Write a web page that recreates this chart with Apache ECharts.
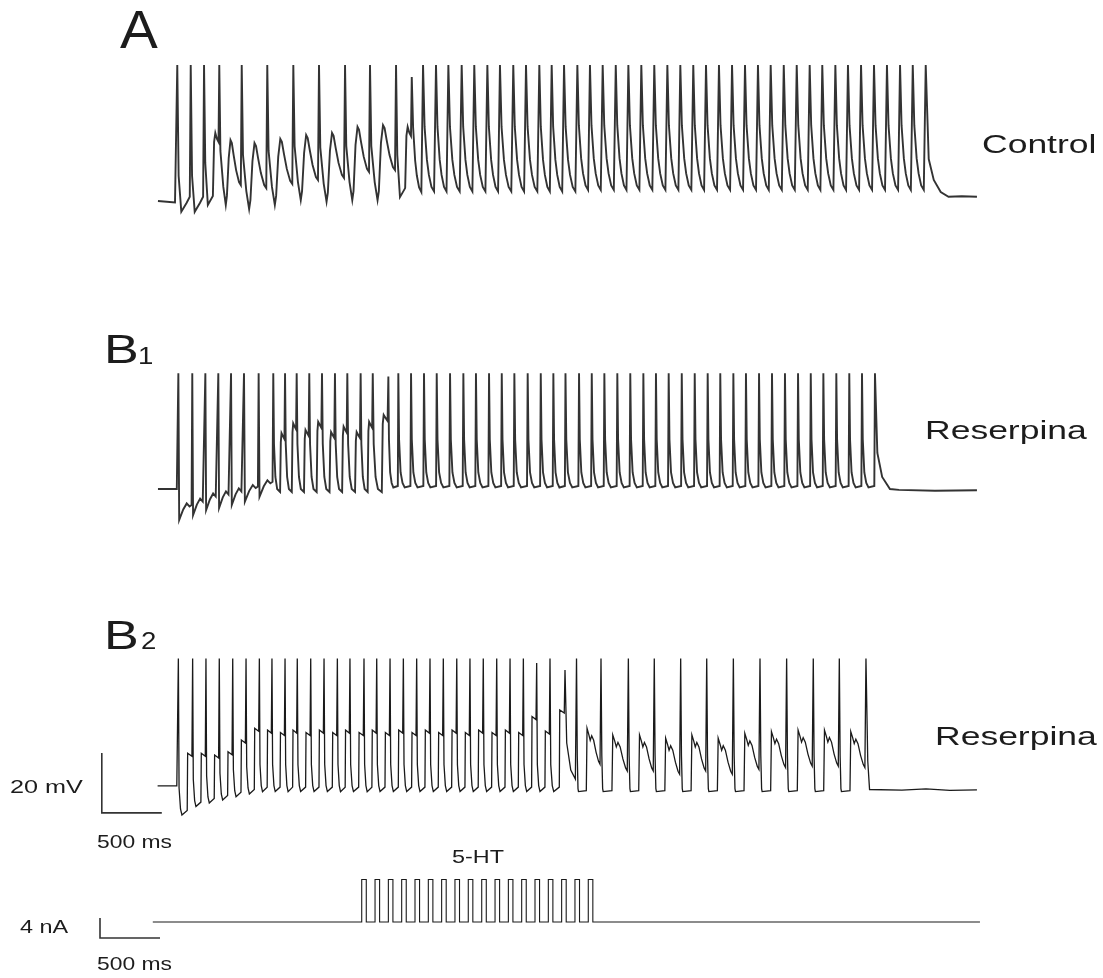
<!DOCTYPE html>
<html><head><meta charset="utf-8">
<script src="https://cdn.jsdelivr.net/npm/echarts@6.0.0/dist/echarts.min.js"></script>
<style>html,body{margin:0;padding:0;background:#fff}#c{width:1103px;height:978px}</style>
</head><body><div id="c"></div>
<script>
// ================= DATA (time in ms, membrane potential in mV, current in nA) =================
// Panel A – Control
const aRest = [[-17, -60], [125, -60.5]];
const aSpikeTimes = [144,256,367,494,681,894,1111,1325,1542,1750,1967,2098,2192,2300,2403,2514,2619,2728,2833,2944,3050,3161,3264,3367,3478,3583,3689,3798,3903,4011,4119,4228,4336,4444,4550,4658,4767,4875,4983,5089,5198,5306,5414,5519,5628,5733,5842,5950,6058,6167,6273,6381];
const aPeaks = [-14.7,-14.7,-14.7,-14.7,-14.7,-14.7,-14.7,-14.7,-14.7,-14.7,-14.7,-18.7,-14.7,-14.7,-14.7,-14.7,-14.7,-14.7,-14.7,-14.7,-14.7,-14.7,-14.7,-14.7,-14.7,-14.7,-14.7,-14.7,-14.7,-14.7,-14.7,-14.7,-14.7,-14.7,-14.7,-14.7,-14.7,-14.7,-14.7,-14.7,-14.7,-14.7,-14.7,-14.7,-14.7,-14.7,-14.7,-14.7,-14.7,-14.7,-14.7,-14.7];
const aTroughs = [-63.6,-63.6,-61.3,-61.3,-62.7,-61.3,-59.7,-60.2,-59.7,-59.7,-58.7,-57.5,-57.3,-57.3,-57.3,-57.3,-57.3,-57.3,-57.3,-57.3,-57.3,-57.3,-57.3,-57.3,-56.8,-56.8,-56.8,-56.8,-56.8,-56.8,-56.8,-56.8,-56.8,-56.8,-56.8,-56.8,-56.8,-56.8,-56.8,-56.8,-56.8,-56.8,-56.8,-56.8,-56.8,-56.8,-56.8,-56.8,-56.8,-56.8,-56.8,-56.8];
const aHumps = [null,null,-37.3,-39.7,-40.7,-39.3,-38,-37.3,-35.3,-34.7,-35.3,null,null,null,null,null,null,null,null,null,null,null,null,null,null,null,null,null,null,null,null,null,null,null,null,null,null,null,null,null,null,null,null,null,null,null,null,null,null,null,null,null];
const aCodes = "EEPHHHHHHHPTTTTTTTTTTTTTTTTTTTTTTTTTTTTTTTTTTTTTTTTT";
const aTail = [[25,-46],[67,-53],[125,-57],[190,-58.6],[300,-58.4],[427,-58.6]];

// Panel B1 – Reserpina
const bRest = [[-17, -60], [140, -60]];
const bSpikeTimes = [153,269,378,486,592,700,822,944,1042,1139,1244,1350,1458,1561,1672,1773,1903,1986,2092,2200,2306,2417,2528,2633,2742,2848,2953,3064,3173,3278,3379,3492,3598,3703,3811,3919,4028,4133,4239,4348,4456,4564,4669,4778,4883,4992,5100,5208,5317,5423,5528,5636,5744,5850,5958];
const bPeaks = [-21.4,-21.4,-21.4,-21.4,-21.4,-21.4,-21.4,-21.4,-21.4,-21.4,-21.4,-21.4,-21.4,-21.4,-21.4,-21.4,-22.5,-21.4,-21.4,-21.4,-21.4,-21.4,-21.4,-21.4,-21.4,-21.4,-21.4,-21.4,-21.4,-21.4,-21.4,-21.4,-21.4,-21.4,-21.4,-21.4,-21.4,-21.4,-21.4,-21.4,-21.4,-21.4,-21.4,-21.4,-21.4,-21.4,-21.4,-21.4,-21.4,-21.4,-21.4,-21.4,-21.4,-21.4,-21.4];
const bTroughs = [-70.3,-68.7,-67,-66.3,-65.3,-64.2,-62.6,-61,-61,-61,-61,-61,-61,-61,-61,-61,-59.5,-59.5,-59.5,-59.5,-59.5,-59.5,-59.5,-59.5,-59.5,-59.5,-59.5,-59.5,-59.5,-59.5,-59.5,-59.5,-59.5,-59.5,-59.5,-59.5,-59.5,-59.5,-59.5,-59.5,-59.5,-59.5,-59.5,-59.5,-59.5,-59.5,-59.5,-59.5,-59.5,-59.5,-59.5,-59.5,-59.5,-59.5,-59.5];
const bHumps = [null,null,null,null,null,null,null,-41.4,-38.1,-40.3,-37.6,-41,-39.2,-41,-37.6,-35.3,null,null,null,null,null,null,null,null,null,null,null,null,null,null,null,null,null,null,null,null,null,null,null,null,null,null,null,null,null,null,null,null,null,null,null,null,null,null,null];
const bCodes = "EEEEEEEPPPPPPPPPTTTTTTTTTTTTTTTTTTTTTTTTTTTTTTTTTTTTTTT";
const bTail = [[20,-48],[60,-56],[125,-60],[200,-60.3],[500,-60.6],[850,-60.4]];

// Panel B2 – Reserpina + 5-HT
const cRest = [[-20, -60.3], [140, -60.3]];
const cSpikeTimes = [153,272,383,494,606,717,828,933,1042,1144,1256,1367,1478,1583,1700,1806,1917,2028,2139,2250,2361,2473,2583,2694,2806,2917,3028,3139,3250,3375,3471,3675,3903,4119,4339,4556,4778,5000,5222,5444,5661,5883];
const cPeaks = [-17.8,-17.8,-17.8,-17.8,-17.8,-17.8,-17.8,-17.8,-17.8,-17.8,-17.8,-17.8,-17.8,-17.8,-17.8,-17.8,-17.8,-17.8,-17.8,-17.8,-17.8,-17.8,-17.8,-17.8,-17.8,-17.8,-17.8,-19.3,-17.8,-21.7,-17.8,-17.8,-17.8,-17.8,-17.8,-17.8,-17.8,-17.8,-17.8,-17.8,-17.8,-17.8];
const cTroughs = [-70,-67.2,-66,-65,-63.9,-63,-62.2,-62.2,-62.2,-62.2,-62.2,-62.2,-62.2,-62.2,-62.2,-62.2,-62.2,-62.2,-62.2,-62.2,-62.2,-62.2,-62.2,-62.2,-62.2,-62.2,-62.2,-62.2,-62.2,-61,-62.2,-62.2,-62.2,-62.2,-62.2,-62.2,-62.2,-62.2,-62.2,-62.2,-62.2,-62.2];
const cHumps = [-49.4,-49.4,-50,-48.9,-45,-41.1,-41.7,-42.5,-41.7,-42.5,-41.7,-42.5,-41.7,-42.5,-41.7,-42.5,-41.7,-42.5,-41.7,-42.5,-41.7,-42.5,-41.7,-42.5,-41.7,-42.5,-37.2,-42,-35,null,-41.1,-43.3,-43.3,-44.4,-43.3,-44.4,-42.8,-42.2,-41.7,-41.7,-42.2,null];
const cCodes = "TTTTTTTTTTTTTTTTTTTTTTTTTTTTTDSSSSSSSSSSSS";
const cTail = [[15,-52],[30,-61.5],[300,-61.7],[500,-61.3],[700,-61.8],[925,-61.6]];

// Stimulus – 5-HT pulses
const stimStart = -60, stimEnd = 6833;
const stimPulseTimes = [1681,1792,1903,2014,2125,2236,2347,2458,2569,2681,2792,2903,3014,3125,3236,3347,3458,3569];
const stimPulseAmp = 8.5;   // nA
const stimPulseWidth = 38;  // ms

// Scale bars
const scaleV = [[-485, -49.3], [-485, -69.3], [15, -69.3]];   // 20 mV / 500 ms
const scaleI = [[-500, 0.8], [-500, -3.2], [0, -3.2]];        // 4 nA / 500 ms

// ================= SHAPE TEMPLATES (fraction of ISI, reference, offset) =================
const shapesA = {
  E: [[0.1,'T',12],[0.3,'T',0],[0.7,'T',3],[0.93,'T',5]],
  P: [[0.08,'T',14],[0.25,'T',0],[0.58,'T',3],[0.66,'H',-3],[0.74,'H',0],[0.85,'H',-2],[0.95,'H',-3]],
  H: [[0.05,'T',18],[0.18,'T',6],[0.29,'T',0],[0.34,'T',3],[0.42,'H',-6],[0.5,'H',0],[0.56,'H',-1],[0.64,'H',-5],[0.75,'H',-10],[0.88,'H',-14],[0.96,'H',-15]],
  T: [[0.12,'T',22],[0.3,'T',11],[0.45,'T',6],[0.65,'T',2],[0.85,'T',0.5],[0.95,'T',0]]
};
const shapesB = {
  E: [[0.06,'T',0],[0.35,'T',3.5],[0.6,'T',5.5],[0.8,'T',4.5],[0.95,'T',5]],
  P: [[0.06,'T',16],[0.18,'T',5],[0.33,'T',1],[0.58,'T',0],[0.64,'H',-3],[0.7,'H',0],[0.82,'H',-1],[0.95,'H',-2]],
  T: [[0.06,'T',16],[0.18,'T',5],[0.33,'T',1.5],[0.5,'T',0],[0.95,'T',0.5]]
};
const shapesC = {
  T: [[0.05,'T',9],[0.15,'T',2],[0.25,'T',0],[0.62,'T',1.5],[0.65,'H',0],[0.95,'H',-1]],
  D: [[0.15,'T',15],[0.5,'T',6],[0.9,'T',3]],
  S: [[0.03,'T',12],[0.06,'T',1],[0.08,'T',0],[0.4,'T',0.3],[0.43,'H',0],[0.5,'H',-2],[0.56,'H',-4],[0.62,'H',-2.5],[0.7,'H',-4],[0.8,'H',-8],[0.9,'H',-11],[0.96,'H',-12]]
};

function buildTrace(rest, spikes, peaks, troughs, humps, codes, shapes, tail) {
  const pts = rest.map(p => p.slice());
  let last = pts[pts.length - 1][1];
  const n = spikes.length;
  for (let i = 0; i < n; i++) {
    const t = spikes[i];
    pts.push([t - 3, last]);
    pts.push([t, peaks[i]]);
    if (i < n - 1) {
      const d = spikes[i + 1] - t;
      for (const s of shapes[codes[i]]) {
        const v = s[1] === 'T' ? troughs[i] + s[2] : humps[i] + s[2];
        pts.push([t + s[0] * d, v]);
      }
      last = pts[pts.length - 1][1];
    } else {
      for (const s of tail) pts.push([t + s[0], s[1]]);
    }
  }
  return pts;
}
function buildStim() {
  const pts = [[stimStart, 0]];
  for (const t of stimPulseTimes) {
    pts.push([t, 0], [t, stimPulseAmp], [t + stimPulseWidth, stimPulseAmp], [t + stimPulseWidth, 0]);
  }
  pts.push([stimEnd, 0]);
  return pts;
}

const traceA = buildTrace(aRest, aSpikeTimes, aPeaks, aTroughs, aHumps, aCodes, shapesA, aTail);
const traceB = buildTrace(bRest, bSpikeTimes, bPeaks, bTroughs, bHumps, bCodes, shapesB, bTail);
const traceC = buildTrace(cRest, cSpikeTimes, cPeaks, cTroughs, cHumps, cCodes, shapesC, cTail);
const traceS = buildStim();

// ================= LAYOUT =================
const X_MIN = -500, X_MAX = 6833.33;
const grids = [
  {left: 100, width: 880, top: 51,  height: 180},
  {left: 100, width: 880, top: 340, height: 190},
  {left: 100, width: 880, top: 640, height: 190},
  {left: 100, width: 880, top: 870, height: 80}
];
const yRanges = [[-70, -10], [-73.667, -10.333], [-75, -11.667], [-5.6, 10.4]];

const FONT = 'Liberation Sans, Arial, Helvetica, sans-serif';
function label(text, x, y, size, sx, align) {
  return {
    type: 'text', x: x, y: y, scaleX: sx || 1, z: 10,
    style: { text: text, fontSize: size, fontFamily: FONT, fill: '#1c1c1c',
      textAlign: align || 'left', textVerticalAlign: 'middle', align: align || 'left', verticalAlign: 'middle' }
  };
}

const mk = (data, idx, w, c) => ({
  type: 'line', data: data, xAxisIndex: idx, yAxisIndex: idx, showSymbol: false, symbol: 'none',
  lineStyle: { width: w, color: c, join: 'miter' }, itemStyle: { color: c }, animation: false, silent: true, clip: false
});

const chart = echarts.init(document.getElementById('c'), null, { renderer: 'canvas' });
chart.setOption({
  backgroundColor: '#ffffff',
  animation: false,
  grid: grids,
  xAxis: grids.map((g, i) => ({ type: 'value', gridIndex: i, min: X_MIN, max: X_MAX, show: false })),
  yAxis: grids.map((g, i) => ({ type: 'value', gridIndex: i, min: yRanges[i][0], max: yRanges[i][1], show: false })),
  series: [
    mk(traceA, 0, 1.9, '#333333'),
    mk(traceB, 1, 1.9, '#333333'),
    mk(traceC, 2, 1.3, '#1a1a1a'),
    mk(traceS, 3, 1.1, '#1a1a1a'),
    mk(scaleV, 2, 1.6, '#333333'),
    mk(scaleI, 3, 1.6, '#333333')
  ],
  graphic: [
    label('A', 120, 33, 54, 1.05),
    label('B', 104, 352, 40, 1.3),
    label('1', 138, 357, 24, 1.15),
    label('B', 104, 638, 40, 1.3),
    label('2', 141, 642, 24, 1.15),
    label('Control', 982, 146, 25, 1.42),
    label('Reserpina', 925, 432, 25, 1.42),
    label('Reserpina', 935, 738, 25, 1.42),
    label('20 mV', 10, 788, 18, 1.4),
    label('500 ms', 97, 843, 18, 1.27),
    label('5-HT', 478, 858, 18, 1.3, 'center'),
    label('4 nA', 20, 928, 18, 1.3),
    label('500 ms', 97, 965, 18, 1.27)
  ]
});
</script></body></html>
